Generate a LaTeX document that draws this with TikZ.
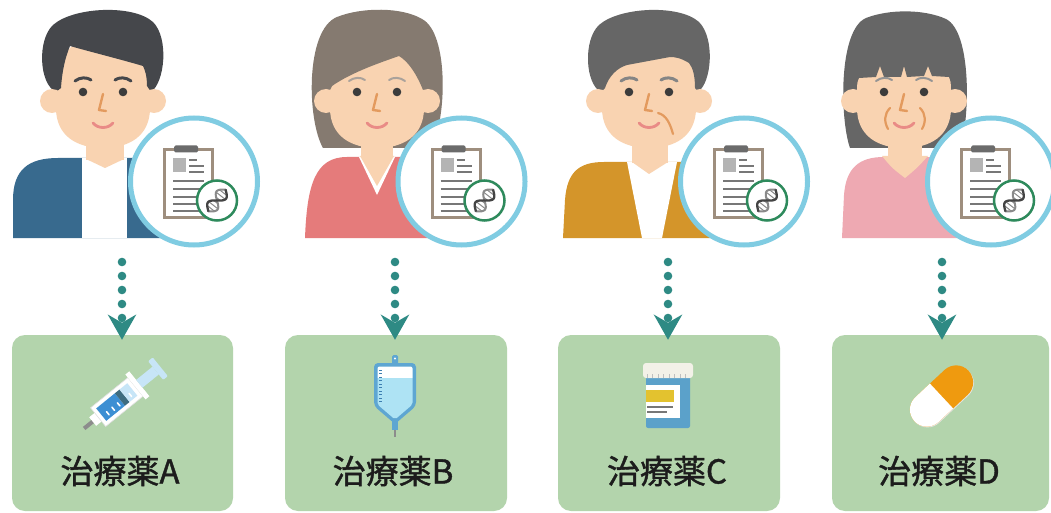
\documentclass[tikz,border=0pt]{standalone}
\usepackage{fontspec}
\newfontfamily\jpfont{Noto Sans CJK JP}[FakeBold=1.2]
\usetikzlibrary{arrows.meta}

\definecolor{skin}{HTML}{F9D3B1}
\definecolor{hairA}{HTML}{45474B}
\definecolor{hairB}{HTML}{857A70}
\definecolor{hairC}{HTML}{666666}
\definecolor{jacketA}{HTML}{386A8E}
\definecolor{bodyB}{HTML}{E57B7B}
\definecolor{bodyC}{HTML}{D4952A}
\definecolor{bodyD}{HTML}{EEA9B2}
\definecolor{eyecol}{HTML}{3C3C3C}
\definecolor{nosecol}{HTML}{E39A5E}
\definecolor{mouthcol}{HTML}{E98B86}
\definecolor{ringblue}{HTML}{80CCE2}
\definecolor{flowteal}{HTML}{2E8A84}
\definecolor{boxgreen}{HTML}{B3D4AC}
\definecolor{clipframe}{HTML}{9E8E7E}
\definecolor{clipdark}{HTML}{6B6B6B}
\definecolor{docgray}{HTML}{777777}
\definecolor{picgray}{HTML}{B4B4B4}
\definecolor{dnagreen}{HTML}{2E8A5C}
\definecolor{dnadark}{HTML}{444444}
\definecolor{dnalight}{HTML}{8A8A8A}
\definecolor{needlegray}{HTML}{8C8C8C}
\definecolor{liquid}{HTML}{3D8FD3}
\definecolor{stopper}{HTML}{3E6C80}
\definecolor{paleblue}{HTML}{C7E5F7}
\definecolor{bagblue}{HTML}{5EA6D2}
\definecolor{bagliquid}{HTML}{AEE3F4}
\definecolor{tickblue}{HTML}{3D7EB0}
\definecolor{jarblue}{HTML}{5BA1CA}
\definecolor{jaryellow}{HTML}{E3C22F}
\definecolor{lidcream}{HTML}{F3F1E8}
\definecolor{capsorange}{HTML}{EF9A0F}
\definecolor{textblack}{HTML}{1C1C1C}

% face pieces shared by the four people (local origin: head centre line)
\newcommand\headbase{\fill[skin] (-47,92) .. controls (-47,52) and (-28,36) .. (0,36)
   .. controls (28,36) and (47,52) .. (47,92) -- (47,108)
   .. controls (47,136) and (26,148) .. (0,148) .. controls (-26,148) and (-47,136) .. (-47,108) -- cycle;}
\newcommand\earpair{\fill[skin] (-51,101) circle (12) (51,101) circle (12);}
\newcommand\facefeatures[2]{%
  \draw[#1, line width=#2, line cap=round] (-28,81) .. controls (-23,77) and (-16,77) .. (-12,80);
  \draw[#1, line width=#2, line cap=round] (28,81) .. controls (23,77) and (16,77) .. (12,80);
  \fill[eyecol] (-20,92) circle (4.3) (20,92) circle (4.3);
  \draw[nosecol, line width=2.4pt, line cap=round, line join=round] (0,94) -- (-4,110) -- (3,111);
  \draw[mouthcol, line width=2.8pt, line cap=round] (-10,123) .. controls (-5,129) and (5,129) .. (10,123);
}

% genetic test record: clipboard with a DNA badge
\newcommand\recordicon{%
  \filldraw[fill=white, draw=clipframe, line width=3pt] (-29.5,-32) rectangle (18.5,35.5);
  \fill[clipdark, rounded corners=1.5pt] (-20,-36) rectangle (4,-29);
  \fill[picgray] (-21,-23) rectangle (-8,-9);
  \draw[docline] (-5,-21) -- (3,-21) (-5,-15) -- (10,-15) (-5,-9) -- (10,-9);
  \foreach \yy in {0,7.5,15,22.5,29} \draw[docline] (-21,\yy) -- (10,\yy);
  \filldraw[fill=white, draw=dnagreen, line width=2.5pt] (23,19) circle (20);
  \begin{scope}[shift={(23,19)}, rotate=52]
    \foreach \u in {-10,-6,-2,2,6,10}
      \draw[dnalight, line width=1pt] (\u,{6*sin(\u*13)}) -- (\u,{-6*sin(\u*13)});
    \draw[dnalight, line width=2pt, domain=-14:14, samples=40, smooth] plot (\x,{-6*sin(\x*13)});
    \draw[dnadark, line width=2.3pt, domain=-14:14, samples=40, smooth] plot (\x,{6*sin(\x*13)});
  \end{scope}
}

\begin{document}
\begin{tikzpicture}[x=1pt, y=-1pt,
  docline/.style={docgray, line width=2pt},
  badge/.style={circle, draw=ringblue, line width=5pt, fill=white, minimum size=127pt, inner sep=0pt},
  drugbox/.style={rectangle, rounded corners=13pt, fill=boxgreen, draw=none, inner sep=0pt,
                  minimum height=176pt},
  lbl/.style={font=\jpfont\fontsize{33}{33}\selectfont, text=textblack, inner sep=0pt},
  flow/.style={draw=flowteal, line width=8.6pt, line cap=round, dash pattern=on 0pt off 14pt,
               shorten >=-5pt, -{Stealth[length=25pt, width=28pt, inset=8pt]}}]
\useasboundingbox (0,0) rectangle (1051,513);
\fill[white] (0,0) rectangle (1051,513);

% ---------------- person A: young man, blue jacket ----------------
\begin{scope}[shift={(103,0)}]
  \fill[jacketA] (-90,238) -- (-90,200) .. controls (-90,170) and (-75,158) .. (-45,158)
     -- (45,158) .. controls (75,158) and (90,170) .. (90,200) -- (90,238) -- cycle;
  \fill[white] (-21,158) rectangle (24,238);
  \fill[skin] (-17,120) rectangle (21,160);
  \fill[skin] (-17,159) -- (2,168) -- (21,159) -- cycle;
  \headbase
  \fill[hairA] (-47,92) .. controls (-64,84) and (-66,40) .. (-50,25)
     .. controls (-30,7) and (30,4) .. (50,22) .. controls (66,38) and (62,82) .. (48,92)
     -- (44,86) .. controls (44,76) and (42,70) .. (40,66)
     .. controls (20,60) and (-12,52) .. (-33,46)
     .. controls (-38,58) and (-41,72) .. (-42,88) -- cycle;
  \earpair
  \facefeatures{hairA}{3pt}
\end{scope}

% ---------------- person B: woman, salmon top ----------------
\begin{scope}[shift={(377,0)}]
  \fill[hairB] (-54,148) .. controls (-70,120) and (-72,30) .. (-40,17)
     .. controls (-15,7) and (25,7) .. (45,19) .. controls (72,33) and (70,120) .. (54,148) -- cycle;
  \fill[bodyB] (-72,238) .. controls (-70,185) and (-62,157) .. (-30,157)
     -- (30,157) .. controls (62,157) and (70,185) .. (72,238) -- cycle;
  \fill[white] (-18,157) -- (0,195) -- (18,157) -- cycle;
  \fill[skin] (-16,120) rectangle (16,158);
  \fill[skin] (-17,156) -- (0,186) -- (17,156) -- cycle;
  \headbase
  \fill[hairB] (-49,94) -- (-49,45) .. controls (-48,30) and (-30,24) .. (0,24)
     .. controls (30,24) and (50,30) .. (50,45) -- (50,94) -- (46,90)
     .. controls (40,75) and (32,62) .. (22,56)
     .. controls (5,62) and (-25,72) .. (-45,86) -- cycle;
  \earpair
  \facefeatures{hairB!70}{2pt}
\end{scope}

% ---------------- person C: older man, mustard vest ----------------
\begin{scope}[shift={(649,0)}]
  \fill[bodyC] (-86,238) -- (-84,200) .. controls (-82,172) and (-70,162) .. (-45,162)
     -- (45,162) .. controls (70,162) and (82,172) .. (84,200) -- (86,238) -- cycle;
  \fill[white] (-22,162) -- (28,162) -- (13,238) -- (-7,238) -- cycle;
  \fill[skin] (-17,120) rectangle (19,163);
  \fill[skin] (-17,162) -- (0,174) -- (19,162) -- cycle;
  \headbase
  \fill[hairC] (-48,92) .. controls (-64,84) and (-66,40) .. (-50,25)
     .. controls (-30,7) and (30,4) .. (50,22) .. controls (66,38) and (63,82) .. (49,92)
     -- (46,88) .. controls (46,76) and (44,68) .. (40,63)
     .. controls (32,58) and (26,57) .. (21,57) -- (-22,65)
     .. controls (-32,68) and (-40,76) .. (-44,88) -- cycle;
  \earpair
  \facefeatures{hairC!80}{3pt}
  \draw[nosecol, line width=2.2pt, line cap=round] (9,113) .. controls (17,115) and (21,123) .. (24,134);
\end{scope}

% ---------------- person D: older woman, pink top ----------------
\begin{scope}[shift={(904,0)}]
  \fill[hairC] (-54,148) .. controls (-64,120) and (-66,30) .. (-38,18)
     .. controls (-15,9) and (20,9) .. (42,19) .. controls (68,32) and (66,120) .. (56,148) -- cycle;
  \fill[bodyD] (-62,238) -- (-60,195) .. controls (-58,168) and (-45,157) .. (-20,157)
     -- (20,157) .. controls (45,157) and (58,168) .. (60,195) -- (62,238) -- cycle;
  \fill[skin] (-16,120) rectangle (18,158);
  \fill[skin] (-22,156) .. controls (-12,168) .. (1,178) .. controls (13,168) .. (24,156) -- cycle;
  \headbase
  \fill[hairC] (-50,90) -- (-50,45) .. controls (-48,30) and (-30,24) .. (0,24)
     .. controls (30,24) and (48,30) .. (50,45) -- (50,90) -- (45,77) -- (28,76) -- (24,66)
     -- (20,76) -- (3,77) -- (0,66) -- (-3,77) -- (-20,77) -- (-24,66) -- (-28,77)
     -- (-45,78) -- cycle;
  \earpair
  \facefeatures{hairC!70}{2pt}
  \draw[nosecol, line width=2.2pt, line cap=round] (-14,108) .. controls (-20,114) and (-20,122) .. (-16,129);
  \draw[nosecol, line width=2.2pt, line cap=round] (16,108) .. controls (22,114) and (22,122) .. (18,129);
\end{scope}

% ---------------- test-record badges ----------------
\node[badge] (cA) at (194,181.5) {};
\node[badge] (cB) at (461.5,181.5) {};
\node[badge] (cC) at (744,181.5) {};
\node[badge] (cD) at (991,181.5) {};
\foreach \c in {cA,cB,cC,cD}{
  \begin{scope}[shift={(\c.center)}] \recordicon \end{scope}
}

% ---------------- treatment boxes ----------------
\node[drugbox, minimum width=221pt] (bA) at (122.5,423) {};
\node[drugbox, minimum width=222pt] (bB) at (396,423) {};
\node[drugbox, minimum width=222pt] (bC) at (669,423) {};
\node[drugbox, minimum width=217pt] (bD) at (940.5,423) {};

% ---------------- dotted arrows ----------------
\coordinate (sA) at (122,262);
\coordinate (sB) at (395,262);
\coordinate (sC) at (668,262);
\coordinate (sD) at (942,262);
\draw[flow] (sA) -- (sA |- bA.north);
\draw[flow] (sB) -- (sB |- bB.north);
\draw[flow] (sC) -- (sC |- bC.north);
\draw[flow] (sD) -- (sD |- bD.north);

% ---------------- syringe ----------------
\begin{scope}[shift={(123,397)}, rotate=39]
  \fill[needlegray] (-50,-2) rectangle (-38,2);
  \fill[white] (-39,-5.5) rectangle (-31,5.5);
  \filldraw[fill=white, draw=black!12, line width=0.6pt] (-32,-12) rectangle (16,12);
  \fill[liquid] (-28,-8) rectangle (-4,8);
  \fill[stopper] (-4,-8) rectangle (2,8);
  \fill[paleblue] (2,-8) rectangle (12,8);
  \foreach \u in {-22,-15,-8}
    \draw[white, line width=1.6pt, line cap=round] (\u,1) -- (\u,5);
  \draw[white, line width=1.6pt, line cap=round] (7,1) -- (7,5);
  \fill[white] (16,-16) rectangle (21,16);
  \fill[paleblue] (21,-5) rectangle (42,5);
  \fill[paleblue, rounded corners=1pt] (42,-12) rectangle (48,12);
\end{scope}

% ---------------- drip bag ----------------
\fill[bagblue, rounded corners=1.5pt] (392,355) rectangle (398,366);
\fill[white] (395,358.5) circle (1.2);
\fill[bagblue, rounded corners=4pt] (374,363) -- (416,363) -- (416,406) -- (395,424) -- (374,406) -- cycle;
\begin{scope}
  \clip[rounded corners=2pt] (377.5,366.5) -- (412.5,366.5) -- (412.5,404.5) -- (395,419.5) -- (377.5,404.5) -- cycle;
  \fill[white] (370,360) rectangle (420,378);
  \fill[bagliquid] (370,378) rectangle (420,425);
\end{scope}
\foreach \yy [count=\k] in {370,373.5,377,380.5,384,387.5,391,394.5,398,401.5}
  \draw[tickblue, line width=1pt] (379,\yy) -- (\ifodd\k 384\else 382\fi,\yy);
\fill[bagblue] (392,421) rectangle (398,430);
\draw[needlegray, line width=1.6pt] (395,430) -- (395,437);

% ---------------- medicine jar ----------------
\fill[jarblue, rounded corners=2pt] (646,376) rectangle (690,428);
\fill[white] (646,385) rectangle (680,418);
\fill[jaryellow] (646,390) rectangle (674,402);
\draw[docgray, line width=1.2pt] (647,407) -- (673,407) (647,412) -- (667,412);
\fill[lidcream, rounded corners=3pt] (643,378) -- (643,363) -- (693,363) -- (693,378) -- cycle;
\foreach \xx in {647,652.5,...,690}
  \draw[black!25, line width=0.8pt] (\xx,374) -- (\xx,378);

% ---------------- capsule ----------------
\begin{scope}[shift={(941.5,396)}, rotate=43]
  \fill[black!10, rounded corners=17pt] (-37,-16) rectangle (37,18);
  \fill[capsorange, rounded corners=17pt] (-37,-17) rectangle (37,17);
  \begin{scope}
    \clip (-40,-20) rectangle (0,20);
    \fill[white, rounded corners=17pt] (-37,-17) rectangle (37,17);
  \end{scope}
\end{scope}

% ---------------- labels ----------------
\node[lbl] (tA) at (120,471) {治療薬A};
\node[lbl] (tB) at (393,471) {治療薬B};
\node[lbl] (tC) at (667,471) {治療薬C};
\node[lbl] (tD) at (939,471) {治療薬D};
\end{tikzpicture}
\end{document}
